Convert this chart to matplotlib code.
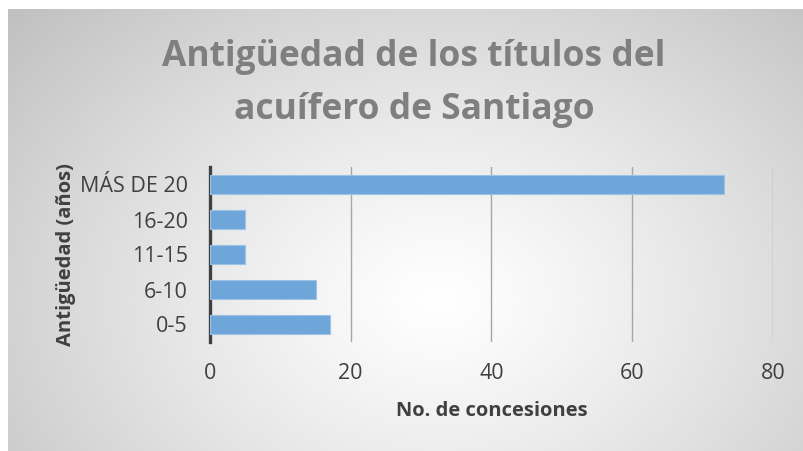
import numpy as np
import matplotlib.pyplot as plt

categories = ['0-5', '6-10', '11-15', '16-20', 'MÁS DE 20']
values = [17, 15, 5, 5, 73]
x_ticks = [0, 20, 40, 60, 80]

plt.rcParams['font.family'] = ['Open Sans', 'DejaVu Sans']

fig = plt.figure(figsize=(8.04, 4.51), dpi=100)

# radial gradient background of the chart area
bg = fig.add_axes([8 / 804, 0, 1 - 8 / 804, 1 - 9 / 451], zorder=-10)
h, w = 442, 796
yy, xx = np.mgrid[0:h, 0:w]
cx, cy = 430, 290
r = np.sqrt(((xx - cx) / 560.0) ** 2 + ((yy - cy) / 420.0) ** 2)
r = np.clip(r, 0, 1)
shade = 1.0 - 0.24 * r ** 1.2
bg.imshow(np.dstack([shade, shade, shade]), aspect='auto', extent=[0, 1, 0, 1],
          vmin=0, vmax=1)
bg.set_axis_off()

ax = fig.add_axes([210 / 804, 109 / 451, 563 / 804, 175 / 451])
ax.set_facecolor('none')
ax.barh(categories, values, height=0.57, color='#6fa6da', edgecolor='#9cc3e6',
        linewidth=0.8, zorder=3)
ax.set_xlim(0, 80)
ax.set_ylim(-0.5, 4.5)
ax.set_xticks(x_ticks)
ax.grid(axis='x', color='#a6a6a6', linewidth=1.0, zorder=0)
ax.xaxis.get_gridlines()[0].set_visible(False)
for s in ['top', 'right', 'bottom']:
    ax.spines[s].set_visible(False)
ax.spines['left'].set_color('#404040')
ax.spines['left'].set_linewidth(2.4)
ax.tick_params(length=0, labelsize=15.5, labelcolor='#404040')
ax.tick_params(axis='x', pad=15)
ax.tick_params(axis='y', pad=16)
ax.set_xlabel('No. de concesiones', fontsize=14.5, fontweight='bold', color='#404040', labelpad=12)
ax.set_ylabel('Antigüedad (años)', fontsize=14.5, fontweight='bold', color='#404040', labelpad=3)

fig.text(0.515, 0.815, 'Antigüedad de los títulos del\nacuífero de Santiago', ha='center', va='center',
         fontsize=25.5, fontweight='bold', color='#7f7f7f', linespacing=1.65)

fig.savefig('out.png', dpi=100)
plt.close()
